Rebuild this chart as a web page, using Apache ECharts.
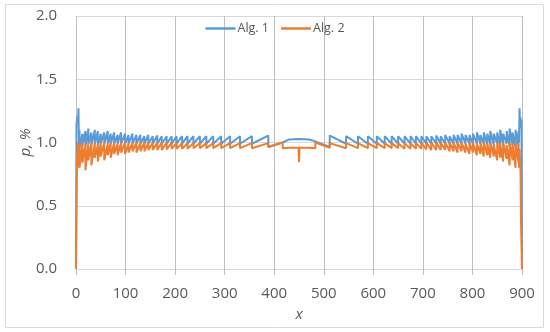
<!DOCTYPE html>
<html><head><meta charset="utf-8">
<script src="https://cdn.jsdelivr.net/npm/echarts@6/dist/echarts.min.js"></script>
<style>html,body{margin:0;padding:0;background:#fff}#c{width:550px;height:332px}</style>
</head><body><div id="c"></div>
<script>
// ---- data ----
const seriesNames = ['Alg. 1', 'Alg. 2'];
const xTicks = [0,100,200,300,400,500,600,700,800,900];
const yTicks = [0.0,0.5,1.0,1.5,2.0];

// tooth edges (x), left half (rising teeth, drop at edge)
const leftEdges = [7,13,19,25,31,38,44,50,57,64,70,77,84,91,99,106,114,122,130,138,146,155,164,173,183,193,203,214,225,237,250,263,277,293,311,331,355,388];
const blueHiL = [1.10,1.07,1.09,1.11,1.08,1.10,1.09,1.07,1.08,1.09,1.07,1.08,1.06,1.08,1.07,1.06,1.07,1.06,1.06,1.05,1.06,1.05,1.055,1.05,1.05,1.05,1.05,1.05,1.05,1.05,1.05,1.05,1.05,1.05,1.05,1.05,1.05,1.055];
const blueLoL = [0.96,0.98,0.97,0.99,0.98,0.99,0.98,0.99,0.99,0.99,0.99,0.99,0.99,0.99,0.99,0.99,0.99,0.99,0.99,0.99,0.99,0.99,0.99,0.99,0.99,0.99,0.99,0.99,0.99,0.99,0.99,0.99,0.99,0.99,0.99,0.99,0.99,0.965];
const orangeHiL = [0.99,1.00,0.98,1.00,0.99,1.00,0.98,1.00,1.00,0.99,1.00,1.00,0.99,1.00,1.00,0.99,1.00,1.00,1.00,1.00,1.00,1.00,1.00,1.00,1.00,1.00,0.995,0.995,0.995,0.995,0.995,0.995,0.995,0.995,0.995,0.995,0.995,0.995];
const orangeLoL = [0.80,0.84,0.78,0.86,0.82,0.88,0.85,0.89,0.86,0.90,0.88,0.91,0.90,0.92,0.91,0.92,0.93,0.92,0.93,0.93,0.94,0.94,0.94,0.94,0.945,0.95,0.95,0.95,0.95,0.955,0.955,0.955,0.955,0.955,0.955,0.955,0.955,0.965];

// tooth edges (x), right half (jump up at edge, falling teeth)
const rightEdges = [512,545,569,589,607,623,637,650,663,675,686,697,707,717,727,736,745,754,762,770,778,786,794,801,809,816,823,830,836,843,850,856,862,869,875,881,887,893];
const blueLoR = [0.965,0.99,0.99,0.99,0.99,0.99,0.99,0.99,0.99,0.99,0.99,0.99,0.99,0.99,0.99,0.99,0.99,0.99,0.99,0.99,0.99,0.99,0.99,0.99,0.99,0.99,0.99,0.98,0.99,0.98,0.99,0.97,0.98,0.99,0.97,0.98,0.96,0.97];
const blueHiR = [1.055,1.05,1.05,1.05,1.05,1.05,1.05,1.05,1.05,1.05,1.05,1.05,1.05,1.05,1.055,1.05,1.06,1.05,1.06,1.06,1.07,1.06,1.06,1.07,1.08,1.06,1.08,1.07,1.09,1.07,1.08,1.10,1.07,1.09,1.11,1.08,1.10,1.09];
const orangeLoR = [0.958,0.955,0.955,0.955,0.955,0.955,0.955,0.955,0.95,0.95,0.95,0.95,0.945,0.94,0.94,0.94,0.94,0.93,0.93,0.92,0.93,0.92,0.91,0.92,0.90,0.91,0.89,0.90,0.88,0.89,0.86,0.88,0.85,0.87,0.82,0.86,0.80,0.84];
const orangeHiR = [0.995,0.995,0.995,0.995,0.995,0.995,0.995,0.995,0.995,0.995,0.995,0.995,1.00,1.00,1.00,1.00,1.00,1.00,1.00,1.00,1.00,0.99,1.00,1.00,0.99,1.00,1.00,0.99,1.00,0.98,1.00,0.99,1.00,0.98,1.00,0.99,1.00,0.98];

// fixed segments
const blueStart = [[0,0],[1,1.15],[3,1.21],[4,1.16],[5,1.27],[6,0.98]];
const orangeStart = [[0,0],[1,0.37],[2,0.92],[3,0.80],[4,1.00],[5,0.85],[6,0.95]];
const blueCenter = [[417,1.0],[420,1.013],[430,1.024],[450,1.028],[470,1.024],[480,1.013],[483,1.0]];
const orangeCenter = [[417,1.0],[417,0.955],[430,0.958],[449,0.958],[450,0.845],[451,0.958],[470,0.958],[483,0.955],[483,1.0]];
const blueEnd = [[894,1.0],[895,1.27],[896,1.15],[897,1.20],[898,1.12],[899,1.18],[900,0]];
const orangeEnd = [[894,0.80],[895,0.95],[896,0.85],[897,0.78],[898,0.37],[899,0.20],[900,0]];

function build(start, hiL, loL, center, loR, hiR, end) {
  const d = start.slice();
  leftEdges.forEach((x, i) => { d.push([x, hiL[i]]); d.push([x, loL[i]]); });
  center.forEach(p => d.push(p));
  rightEdges.forEach((x, i) => { d.push([x, loR[i]]); d.push([x, hiR[i]]); });
  end.forEach(p => d.push(p));
  return d;
}
const blueData = build(blueStart, blueHiL, blueLoL, blueCenter, blueLoR, blueHiR, blueEnd);
const orangeData = build(orangeStart, orangeHiL, orangeLoL, orangeCenter, orangeLoR, orangeHiR, orangeEnd);

const chart = echarts.init(document.getElementById('c'), null, {renderer: 'canvas'});
const FONT = '"Open Sans", "Noto Sans", sans-serif';
chart.setOption({
  animation: false,
  backgroundColor: '#ffffff',
  graphic: [{type: 'rect', shape: {x: 5.5, y: 4.5, width: 538, height: 323}, style: {fill: 'none', stroke: '#d9d9d9', lineWidth: 1}, silent: true}],
  legend: {
    data: seriesNames.map(n => ({name: n, icon: 'rect'})), top: 17, left: 'center', itemWidth: 30, itemHeight: 2.5, itemGap: 12,
    textStyle: {fontFamily: FONT, fontSize: 12.5, color: '#595959', padding: [0, 0, 0, -3]}
  },
  grid: {left: 76, right: 28, top: 16, bottom: 63, containLabel: false},
  xAxis: {
    type: 'value', min: xTicks[0], max: xTicks[xTicks.length-1], interval: 100,
    name: 'x', nameLocation: 'middle', nameGap: 38, nameMoveOverlap: false,
    nameTextStyle: {fontFamily: FONT, fontSize: 15, color: '#595959', fontStyle: 'italic'},
    axisLine: {show: true, lineStyle: {color: '#d9d9d9', width: 1}},
    axisTick: {show: true, length: 6, lineStyle: {color: '#bfbfbf'}},
    axisLabel: {fontFamily: FONT, fontSize: 15, color: '#595959', margin: 17},
    splitLine: {show: true, lineStyle: {color: '#bfbfbf', width: 1}}
  },
  yAxis: {
    type: 'value', min: yTicks[0], max: yTicks[yTicks.length-1], interval: 0.5,
    name: 'p, %', nameLocation: 'middle', nameGap: 43, nameRotate: 90, nameMoveOverlap: false,
    nameTextStyle: {fontFamily: FONT, fontSize: 15, color: '#595959', fontStyle: 'italic'},
    axisLine: {show: false}, axisTick: {show: false},
    axisLabel: {fontFamily: FONT, fontSize: 15, color: '#595959', margin: 19, formatter: v => v.toFixed(1)},
    splitLine: {show: true, lineStyle: {color: '#d9d9d9', width: 1}}
  },
  series: [
    {name: seriesNames[0], type: 'line', data: blueData, symbol: 'none', lineStyle: {color: '#5b9bd5', width: 2}, itemStyle: {color: '#5b9bd5'}},
    {name: seriesNames[1], type: 'line', data: orangeData, symbol: 'none', lineStyle: {color: '#ed7d31', width: 2}, itemStyle: {color: '#ed7d31'}}
  ]
});
</script></body></html>
